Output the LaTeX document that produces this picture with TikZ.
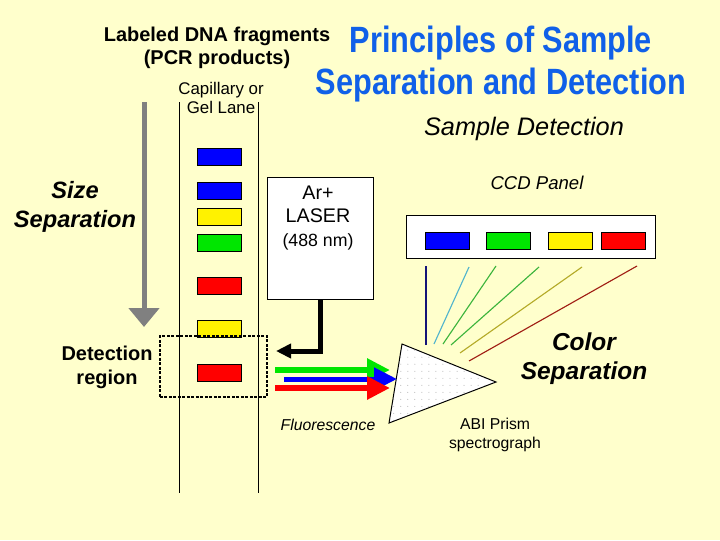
\documentclass[tikz,border=0pt]{standalone}
\usepackage{fontspec}
\setmainfont{Liberation Sans}
\newfontfamily\titlefont[FakeStretch=0.84]{Liberation Sans}
\usetikzlibrary{arrows.meta,patterns.meta}
\definecolor{bgyellow}{RGB}{255,255,204}
\definecolor{titleblue}{RGB}{16,96,232}
\definecolor{bandgreen}{RGB}{0,230,0}
\definecolor{raynavy}{RGB}{20,20,120}
\definecolor{raycyan}{RGB}{80,180,205}
\definecolor{raygreen}{RGB}{60,180,60}
\definecolor{rayolive}{RGB}{180,170,40}
\definecolor{rayred}{RGB}{160,30,20}
\tikzset{
  lbl/.style={inner sep=0pt,align=center},
  band/.style={draw=black,line width=0.6pt},
  box/.style={draw=black,fill=white,line width=0.7pt,inner sep=0pt},
  beam/.style={line width=0.15cm,-{Triangle[length=0.575cm,width=0.55cm]}},
}
\begin{document}
\begin{tikzpicture}[x=0.025cm,y=-0.025cm]
            \fill[bgyellow] (0,0) rectangle (720,540);
            \useasboundingbox (0,0) rectangle (720,540);

            \node[lbl,font=\fontsize{14.2}{16.3}\selectfont\bfseries] (frag) at (217,47.5) {Labeled DNA fragments\\(PCR products)};
            \node[lbl,font=\fontsize{12}{13.5}\selectfont] (lane) at (221,97.5) {Capillary or\\Gel Lane};
            \node[lbl,text=titleblue,font=\fontsize{26}{29.8}\selectfont\titlefont\bfseries] (title) at (501,64) {Principles of Sample\\Separation and Detection};
            \node[lbl,font=\fontsize{18}{20}\selectfont\itshape] (sampledet) at (524,129) {Sample Detection};
            \node[lbl,font=\fontsize{16.8}{20.5}\selectfont\bfseries\itshape] (sizesep) at (75,206.5) {Size\\Separation};
            \node[lbl,font=\fontsize{14.2}{17}\selectfont\bfseries] (detreg) at (107,367) {Detection\\region};
            \node[lbl,font=\fontsize{17.4}{20.5}\selectfont\bfseries\itshape] (colorsep) at (584,358.5) {Color\\Separation};
            \node[lbl,font=\fontsize{13.2}{15}\selectfont\itshape] (ccdlabel) at (537,183) {CCD Panel};
            \node[lbl,font=\fontsize{11.2}{13}\selectfont\itshape] (fluor) at (328,425) {Fluorescence};
            \node[lbl,font=\fontsize{11.2}{13.5}\selectfont] (abi) at (495,434.5) {ABI Prism\\spectrograph};

            % gel lane
            \draw[line width=0.7pt] (179,102)--(179,493);
            \draw[line width=0.7pt] (258,102)--(258,493);
            \foreach \y/\c in {148/blue,182/blue,208/yellow,234/bandgreen,277/red,320/yellow,364/red}
                \draw[band,fill=\c] (197,\y) rectangle (241,\y+17);
            \node[draw=black,line width=2pt,dash pattern=on 2pt off 1.2pt,minimum width=2.675cm,minimum height=1.525cm] (det) at (213.5,366.5) {};
            \draw[gray,line width=0.125cm,-{Triangle[length=0.475cm,width=0.75cm]}] (144,102)--(144,327);

            % laser
            \node[box,minimum width=2.65cm,minimum height=3.025cm] (laser) at (320,238.5) {};
            \node[lbl,font=\fontsize{14}{17}\selectfont] (lasertext) at (318,218) {Ar+\\LASER\\\fontsize{12.6}{17}\selectfont(488 nm)};
            \coordinate (beamend) at (276,351);
            \draw[line width=0.125cm,-{Triangle[length=0.375cm,width=0.35cm]}] (laser.south) |- (beamend);

            % prism
            \coordinate (ptop) at (402,344);
            \coordinate (ptip) at (496,382);
            \coordinate (pbot) at (389,423);
            \draw[line width=0.7pt,preaction={fill=white},pattern={Dots[distance=5pt,radius=0.35pt]},pattern color=gray!70] (ptop)--(ptip)--(pbot)--cycle;

            % fluorescence
            \draw[beam,bandgreen] (275,370)--(390,370);
            \draw[beam,blue,line width=0.125cm] (284,379)--(397,379);
            \draw[beam,red] (275,388)--(390,388);

            % ccd panel
            \node[box,minimum width=6.2cm,minimum height=1.075cm] (ccd) at (531,236.5) {};
            \draw[band,fill=blue] (425,232) rectangle (469,249);
            \draw[band,fill=bandgreen] (486,232) rectangle (530,249);
            \draw[band,fill=yellow] (548,232) rectangle (592,249);
            \draw[band,fill=red] (601,232) rectangle (645,249);

            % rays
            \draw[raynavy,line width=0.8pt] (426,345)--(426,266);
            \draw[raycyan,line width=0.8pt] (434,344)--(469,267);
            \draw[raygreen,line width=0.8pt] (443,344)--(496,266);
            \draw[raygreen,line width=0.8pt] (451,345)--(539,267);
            \draw[rayolive,line width=0.8pt] (460,353)--(582,267);
            \draw[rayred,line width=0.8pt] (469,361)--(637,266);
\end{tikzpicture}
\end{document}
